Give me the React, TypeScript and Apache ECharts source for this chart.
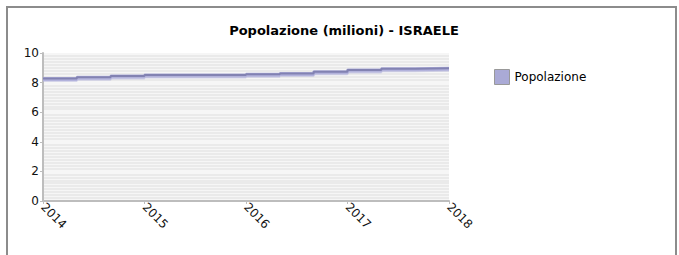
import React, { useEffect, useRef } from "react";
import * as echarts from "echarts";

const title = "Popolazione (milioni) - ISRAELE";
const seriesName = "Popolazione";
const startYear = 2014;
const endYear = 2018;
const stepsPerYear = 3;
const population = [8.27, 8.36, 8.45, 8.51, 8.51, 8.51, 8.56, 8.62, 8.73, 8.85, 8.94, 8.97];
const yTicks = [0, 2, 4, 6, 8, 10];

const FONT = "DejaVu Sans";

export default function App() {
  const ref = useRef<HTMLDivElement>(null);
  useEffect(() => {
    if (!ref.current) return;
    const chart = echarts.init(ref.current, null, { renderer: "svg" });
    const data: [number, number][] = population.map((v, i) => [startYear + i / stepsPerYear, v]);
    data.push([endYear, population[population.length - 1]]);
    chart.setOption({
      animation: false,
      backgroundColor: "#ffffff",
      textStyle: { fontFamily: FONT },
      title: {
        text: title,
        left: 344,
        textAlign: "center",
        top: 24,
        padding: 0,
        textStyle: { fontFamily: FONT, fontSize: 13, fontWeight: "bold", color: "#000" },
      },
      legend: {
        left: 494,
        top: 69,
        padding: 0,
        itemWidth: 15,
        itemHeight: 15,
        itemGap: 5,
        data: [
          {
            name: seriesName,
            icon: "rect",
            itemStyle: { color: "#aaaad6", borderColor: "#999999", borderWidth: 1 },
          },
        ],
        textStyle: { fontFamily: FONT, fontSize: 12, color: "#000", padding: [0, 0, 0, 0] },
      },
      graphic: [
        {
          type: "rect",
          shape: { x: 7, y: 7, width: 669, height: 270 },
          style: { fill: "none", stroke: "#8c8c8c", lineWidth: 2 },
          silent: true,
        },
      ],
      grid: {
        left: 43,
        top: 53,
        width: 406,
        height: 148,
        show: true,
        backgroundColor: "#f6f6f6",
        borderWidth: 0,
      },
      xAxis: {
        type: "value",
        min: startYear,
        max: endYear,
        interval: 1,
        axisLine: { show: true, lineStyle: { color: "#bdbdbd", width: 2 } },
        axisTick: { show: true, length: 3, lineStyle: { color: "#bdbdbd" } },
        splitLine: { show: false },
        axisLabel: {
          rotate: -45,
          margin: 4,
          fontFamily: FONT,
          fontSize: 12,
          color: "#111",
          formatter: (v: number) => String(v),
        },
      },
      yAxis: {
        type: "value",
        min: yTicks[0],
        max: yTicks[yTicks.length - 1],
        interval: 2,
        axisLine: { show: true, lineStyle: { color: "#bdbdbd", width: 2 } },
        axisTick: { show: true, length: 3, lineStyle: { color: "#bdbdbd" } },
        splitLine: { show: false },
        minorTick: { show: false, splitNumber: 10 },
        minorSplitLine: { show: true, lineStyle: { color: "#e6e6e6", width: 1.5 } },
        axisLabel: { fontFamily: FONT, fontSize: 12, color: "#111", margin: 4 },
      },
      series: [
        {
          name: seriesName,
          type: "line",
          step: "end",
          data,
          symbol: "none",
          color: "#aaaad6",
          lineStyle: {
            color: "#b2b2dc",
            width: 3,
            shadowColor: "#b2b2dc",
            shadowOffsetY: 1.5,
            shadowBlur: 0,
          },
          silent: true,
          z: 2,
        },
        {
          name: seriesName + "_top",
          type: "line",
          step: "end",
          data,
          symbol: "none",
          lineStyle: { color: "#8282b2", width: 2 },
          silent: true,
          z: 3,
        },
      ],
    });
    return () => chart.dispose();
  }, []);
  return (
    <div
      ref={ref}
      style={{ position: "absolute", left: 0, top: 0, width: 679, height: 255 }}
    />
  );
}
